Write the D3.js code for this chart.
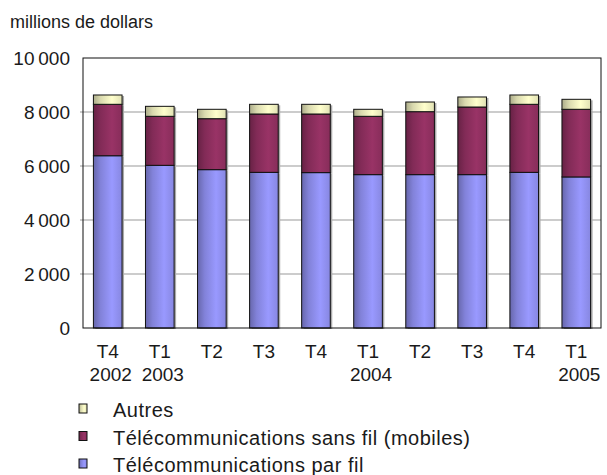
<!DOCTYPE html>
<html>
<head>
<meta charset="utf-8">
<script src="https://cdn.jsdelivr.net/npm/d3@7"></script>
<style>
  body { margin: 0; background: #fff; }
  text { font-family: "Liberation Sans", Arial, sans-serif; fill: #1a1a1a; }
</style>
</head>
<body>
<svg id="chart" width="607" height="475"></svg>
<script>
/* chart data */
var quarters = ["T4", "T1", "T2", "T3", "T4", "T1", "T2", "T3", "T4", "T1"];
var years = ["2002", "2003", "", "", "", "2004", "", "", "", "2005"];
var wired = [6380, 6025, 5865, 5765, 5755, 5680, 5680, 5680, 5765, 5595];
var mobile = [1905, 1815, 1887, 2161, 2171, 2160, 2332, 2505, 2520, 2505];
var others = [345, 370, 348, 359, 359, 260, 358, 371, 345, 370];
var yTicks = [0, 2000, 4000, 6000, 8000, 10000];
var seriesNames = ["Télécommunications par fil", "Télécommunications sans fil (mobiles)", "Autres"];
var seriesColors = ["#9999ff", "#993366", "#ffffcc"];

var svg = d3.select("#chart");
var plotL = 83, plotR = 601, plotT = 58, plotB = 328;

var cats = quarters.map(function(q, i) { return i; });
var x = d3.scaleBand().domain(cats).range([plotL, plotR]).paddingInner(0.45).paddingOuter(0.2);
var y = d3.scaleLinear().domain([0, 10000]).range([plotB, plotT]);

/* gradients, darker on the left edge like the excel bars */
var defs = svg.append("defs");
seriesColors.forEach(function(c, i) {
  var g = defs.append("linearGradient").attr("id", "grad" + i)
    .attr("x1", "0%").attr("x2", "100%").attr("y1", "0%").attr("y2", "0%");
  var base = d3.color(c);
  g.append("stop").attr("offset", "0%").attr("stop-color", d3.rgb(base).darker(1.1));
  g.append("stop").attr("offset", "25%").attr("stop-color", d3.rgb(base).darker(0.45));
  g.append("stop").attr("offset", "65%").attr("stop-color", base);
  g.append("stop").attr("offset", "100%").attr("stop-color", d3.rgb(base).darker(0.35));
});

/* title */
svg.append("text").attr("x", 10).attr("y", 28).attr("font-size", "18px").text("millions de dollars");

/* gridlines */
svg.append("g").selectAll("line").data(yTicks.filter(function(d) { return d > 0 && d < 10000; }))
  .enter().append("line")
  .attr("x1", plotL - 3).attr("x2", plotR)
  .attr("y1", function(d) { return y(d); }).attr("y2", function(d) { return y(d); })
  .attr("stroke", "#999").attr("stroke-width", 1);

/* y tick labels */
var fmt = function(d) { return d3.format(",")(d).replace(/,/g, "\u2009"); };
svg.append("g").selectAll("text").data(yTicks).enter().append("text")
  .attr("x", 70).attr("y", function(d) { return y(d) + 7; })
  .attr("text-anchor", "end").attr("font-size", "19px")
  .text(fmt);

/* stacked bars */
var rows = cats.map(function(i) { return { i: i, s0: wired[i], s1: mobile[i], s2: others[i] }; });
var stack = d3.stack().keys(["s0", "s1", "s2"])(rows);

var barG = svg.append("g");
stack.forEach(function(layer) {
  // shadow
  barG.append("g").selectAll("rect").data(layer).enter().append("rect")
    .attr("x", function(d) { return x(d.data.i) + 2; })
    .attr("y", function(d) { return y(d[1]) + 1; })
    .attr("width", x.bandwidth())
    .attr("height", function(d) { return y(d[0]) - y(d[1]); })
    .attr("fill", "#aaa");
});
stack.forEach(function(layer, k) {
  barG.append("g").selectAll("rect").data(layer).enter().append("rect")
    .attr("x", function(d) { return x(d.data.i); })
    .attr("y", function(d) { return y(d[1]); })
    .attr("width", x.bandwidth())
    .attr("height", function(d) { return y(d[0]) - y(d[1]); })
    .attr("fill", "url(#grad" + k + ")")
    .attr("stroke", "#111").attr("stroke-width", 1);
});

/* plot frame */
svg.append("rect").attr("x", plotL).attr("y", plotT).attr("width", plotR - plotL).attr("height", plotB - plotT)
  .attr("fill", "none").attr("stroke", "#111").attr("stroke-width", 1);

/* x labels */
var xl = svg.append("g");
xl.selectAll(".q").data(cats).enter().append("text")
  .attr("x", function(d) { return x(d) + x.bandwidth() / 2; })
  .attr("y", 358).attr("text-anchor", "middle").attr("font-size", "19px")
  .text(function(d) { return quarters[d]; });
xl.selectAll(".yr").data(cats).enter().append("text")
  .attr("x", function(d) { return x(d) + x.bandwidth() / 2 + 3; })
  .attr("y", 381).attr("text-anchor", "middle").attr("font-size", "19px")
  .text(function(d) { return years[d]; });

/* legend: Autres first, then mobiles, then par fil */
var legendOrder = [2, 1, 0];
var lg = svg.append("g");
legendOrder.forEach(function(k, j) {
  var by = 417 + j * 27.5;
  lg.append("rect").attr("x", 79).attr("y", by - 13).attr("width", 8).attr("height", 9)
    .attr("fill", "url(#grad" + k + ")").attr("stroke", "#111");
  lg.append("text").attr("x", 113).attr("y", by).attr("font-size", "20px")
    .attr("letter-spacing", "0.5px").text(seriesNames[k]);
});
</script>
</body>
</html>
